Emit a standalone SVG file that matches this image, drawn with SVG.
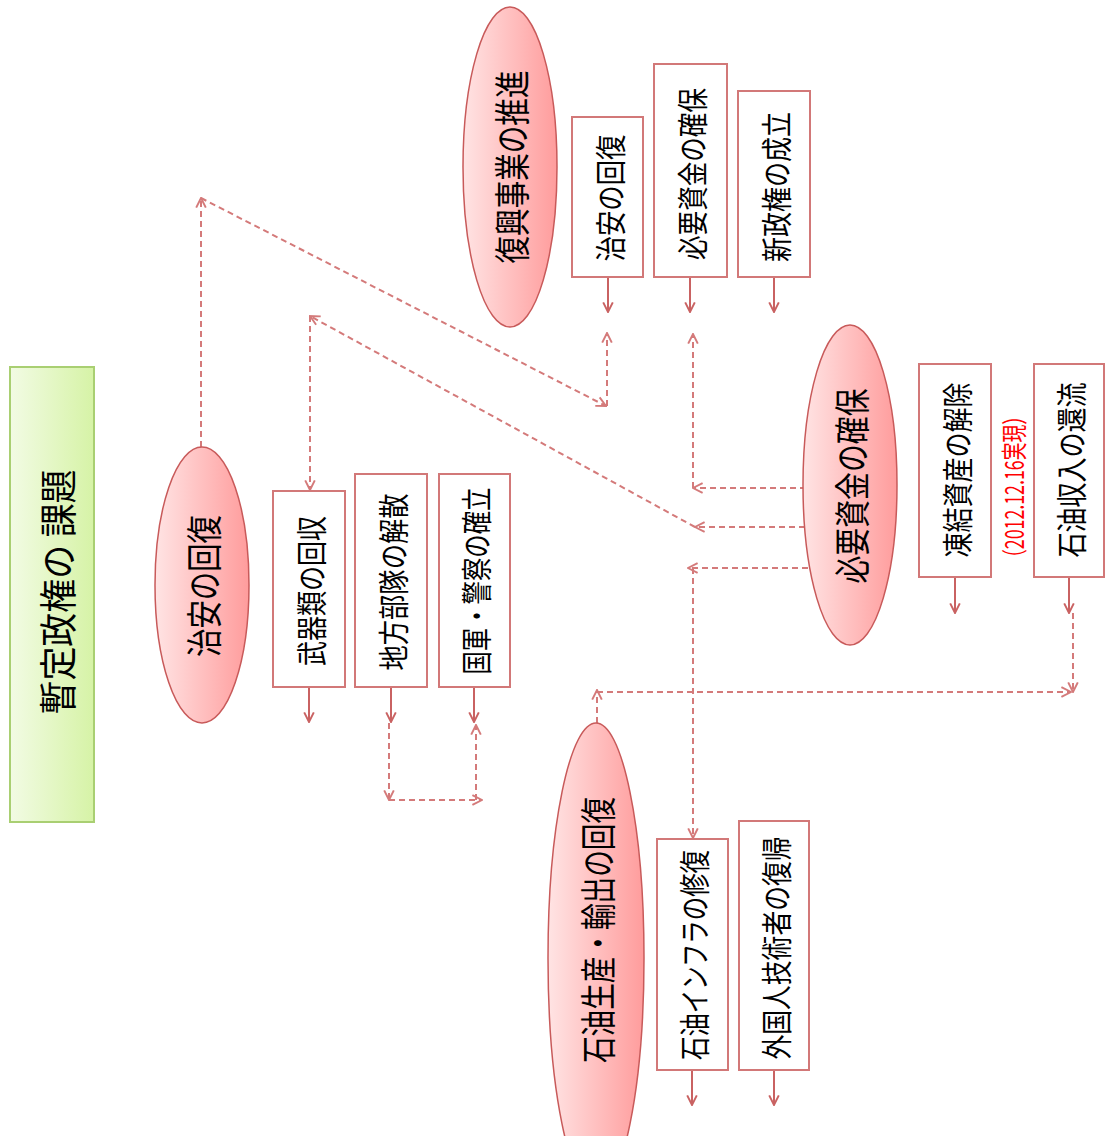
<svg xmlns="http://www.w3.org/2000/svg" width="1105" height="1136" viewBox="0 0 1105 1136">
<defs>
<linearGradient id="gPink" x1="0" y1="0" x2="1" y2="0">
<stop offset="0" stop-color="#ffe4e4"/>
<stop offset="1" stop-color="#ff9c9c"/>
</linearGradient>
<linearGradient id="gGreen" x1="0" y1="0" x2="1" y2="0">
<stop offset="0" stop-color="#f2fbe4"/>
<stop offset="1" stop-color="#d6f3a6"/>
</linearGradient>
<marker id="ah" viewBox="0 0 10 10" refX="9" refY="5" markerWidth="12" markerHeight="12" markerUnits="userSpaceOnUse" orient="auto">
<path d="M1,1 L9,5 L1,9" fill="none" stroke="#c96262" stroke-width="1.6"/>
</marker>
<marker id="ahd" viewBox="0 0 10 10" refX="9" refY="5" markerWidth="12" markerHeight="12" markerUnits="userSpaceOnUse" orient="auto">
<path d="M1,1 L9,5 L1,9" fill="none" stroke="#d47a7a" stroke-width="1.6"/>
</marker>
</defs>
<style>
.ell{fill:url(#gPink);stroke:#c85a5a;stroke-width:1.5}
.box{fill:#ffffff;stroke:#d27878;stroke-width:2}
.t{font-family:"Noto Sans CJK JP","Noto Sans CJK SC",sans-serif;fill:#000;text-anchor:middle;dominant-baseline:central}
.s{stroke:#c96262;stroke-width:2;fill:none;marker-end:url(#ah)}
.d{stroke:#d47a7a;stroke-width:2;fill:none;stroke-dasharray:6 4;marker-end:url(#ahd)}
</style>
<g id="title">
<rect x="10" y="367" width="84" height="455" fill="url(#gGreen)" stroke="#a9cf72" stroke-width="2"/>
<text class="t" transform="translate(55,592) rotate(-90)" font-size="38" textLength="245" lengthAdjust="spacingAndGlyphs">暫定政権の 課題</text>
</g>
<g id="connectors">
<line class="s" x1="309" y1="687" x2="309" y2="722"/>
<line class="s" x1="391" y1="687" x2="391" y2="722"/>
<line class="s" x1="474" y1="687" x2="474" y2="722"/>
<line class="s" x1="608" y1="277" x2="608" y2="312"/>
<line class="s" x1="690" y1="277" x2="690" y2="312"/>
<line class="s" x1="774" y1="277" x2="774" y2="312"/>
<line class="s" x1="955" y1="577" x2="955" y2="613"/>
<line class="s" x1="1069" y1="577" x2="1069" y2="613"/>
<line class="s" x1="692" y1="1070" x2="692" y2="1105"/>
<line class="s" x1="774" y1="1070" x2="774" y2="1105"/>
<line class="d" x1="201" y1="447" x2="201" y2="198"/>
<line class="d" x1="201" y1="198" x2="606" y2="406"/>
<line class="d" x1="607" y1="406" x2="607" y2="333"/>
<line class="d" x1="805" y1="527" x2="695" y2="527"/>
<line class="d" x1="695" y1="527" x2="310" y2="316"/>
<line class="d" x1="310" y1="316" x2="310" y2="490"/>
<line class="d" x1="806" y1="488" x2="693" y2="488"/>
<line class="d" x1="693" y1="488" x2="693" y2="334"/>
<line class="d" x1="808" y1="568" x2="688" y2="568"/>
<line class="d" x1="693" y1="568" x2="693" y2="838"/>
<line class="d" x1="1073" y1="613" x2="1073" y2="692"/>
<line class="d" x1="597" y1="692" x2="1071" y2="692"/>
<line class="d" x1="597" y1="723" x2="597" y2="690"/>
<line class="d" x1="389" y1="723" x2="389" y2="800"/>
<line class="d" x1="389" y1="800" x2="482" y2="800"/>
<line class="d" x1="476" y1="800" x2="476" y2="725"/>
</g>
<g id="n-chian">
<ellipse class="ell" cx="202" cy="585" rx="47" ry="138"/>
<text class="t" transform="translate(202,586) rotate(-90)" font-size="36" textLength="142" lengthAdjust="spacingAndGlyphs">治安の回復</text>
</g>
<g id="n-buki">
<rect class="box" x="273" y="491" width="72" height="196"/>
<text class="t" transform="translate(309,591) rotate(-90)" font-size="31" textLength="150" lengthAdjust="spacingAndGlyphs">武器類の回収</text>
</g>
<g id="n-chiho">
<rect class="box" x="355" y="474" width="72" height="213"/>
<text class="t" transform="translate(391,582) rotate(-90)" font-size="31" textLength="177" lengthAdjust="spacingAndGlyphs">地方部隊の解散</text>
</g>
<g id="n-kokugun">
<rect class="box" x="439" y="474" width="71" height="213"/>
<text class="t" transform="translate(474,581) rotate(-90)" font-size="31" textLength="187" lengthAdjust="spacingAndGlyphs">国軍・警察の確立</text>
</g>
<g id="n-fukko">
<ellipse class="ell" cx="510" cy="167" rx="47" ry="160"/>
<text class="t" transform="translate(510,167) rotate(-90)" font-size="36" textLength="193" lengthAdjust="spacingAndGlyphs">復興事業の推進</text>
</g>
<g id="n-chian2">
<rect class="box" x="572" y="117" width="71" height="160"/>
<text class="t" transform="translate(608,198) rotate(-90)" font-size="31" textLength="127" lengthAdjust="spacingAndGlyphs">治安の回復</text>
</g>
<g id="n-shikin2">
<rect class="box" x="654" y="64" width="73" height="213"/>
<text class="t" transform="translate(690,174) rotate(-90)" font-size="31" textLength="172" lengthAdjust="spacingAndGlyphs">必要資金の確保</text>
</g>
<g id="n-shinseiken">
<rect class="box" x="738" y="91" width="72" height="186"/>
<text class="t" transform="translate(774,187) rotate(-90)" font-size="31" textLength="150" lengthAdjust="spacingAndGlyphs">新政権の成立</text>
</g>
<g id="n-shikin">
<ellipse class="ell" cx="850" cy="485" rx="47" ry="160"/>
<text class="t" transform="translate(850,486) rotate(-90)" font-size="36" textLength="195" lengthAdjust="spacingAndGlyphs">必要資金の確保</text>
</g>
<g id="n-toketsu">
<rect class="box" x="919" y="364" width="72" height="213"/>
<text class="t" transform="translate(955,470) rotate(-90)" font-size="31" textLength="175" lengthAdjust="spacingAndGlyphs">凍結資産の解除</text>
</g>
<g id="n-jitsugen">
<text class="t" transform="translate(1012,487) rotate(-90)" font-size="26" textLength="160" lengthAdjust="spacingAndGlyphs" style="fill:#ff0000">（2012.12.16実現）</text>
</g>
<g id="n-sekiyushunyu">
<rect class="box" x="1034" y="364" width="70" height="213"/>
<text class="t" transform="translate(1069,470) rotate(-90)" font-size="31" textLength="175" lengthAdjust="spacingAndGlyphs">石油収入の還流</text>
</g>
<g id="n-sekiyu">
<ellipse class="ell" cx="596" cy="958" rx="48" ry="235"/>
<text class="t" transform="translate(596,930) rotate(-90)" font-size="36" textLength="266" lengthAdjust="spacingAndGlyphs">石油生産・輸出の回復</text>
</g>
<g id="n-infra">
<rect class="box" x="657" y="839" width="71" height="231"/>
<text class="t" transform="translate(692,955) rotate(-90)" font-size="31" textLength="210" lengthAdjust="spacingAndGlyphs">石油インフラの修復</text>
</g>
<g id="n-gijutsusha">
<rect class="box" x="739" y="821" width="70" height="249"/>
<text class="t" transform="translate(774,948) rotate(-90)" font-size="31" textLength="223" lengthAdjust="spacingAndGlyphs">外国人技術者の復帰</text>
</g>
</svg>
